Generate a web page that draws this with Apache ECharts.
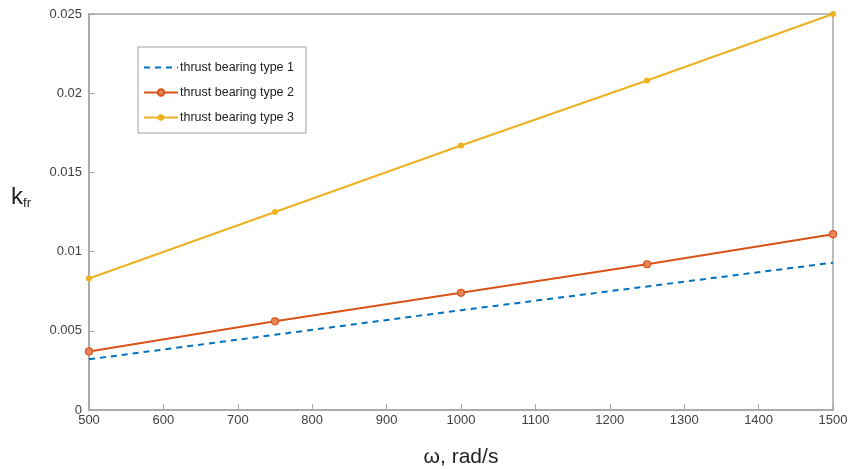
<!DOCTYPE html>
<html><head><meta charset="utf-8">
<script src="https://cdn.jsdelivr.net/npm/echarts@6/dist/echarts.min.js"></script>
<style>html,body{margin:0;padding:0;background:#fff}#c{width:850px;height:469px}</style>
</head><body><div id="c"></div>
<script>
const omega = [500, 750, 1000, 1250, 1500];
const type1 = [0.0032, 0.00475, 0.0063, 0.0078, 0.0093];
const type2 = [0.0037, 0.0056, 0.0074, 0.0092, 0.0111];
const type3 = [0.0083, 0.0125, 0.0167, 0.0208, 0.025];
const names = ['thrust bearing type 1', 'thrust bearing type 2', 'thrust bearing type 3'];
const yTicks = ['0', '0.005', '0.01', '0.015', '0.02', '0.025'];

const pairs = a => omega.map((x, i) => [x, a[i]]);
const chart = echarts.init(document.getElementById('c'));
const font = 'Liberation Sans, Arial, sans-serif';
chart.setOption({
  animation: false,
  grid: { left: 89, right: 17, top: 14, bottom: 59, outerBoundsMode: 'none', containLabel: false,
          show: true, borderColor: '#a6a6a6', borderWidth: 1.5 },
  legend: {
    left: 138, top: 47, orient: 'vertical', itemGap: 10, itemWidth: 34, itemHeight: 8,
    padding: [13, 12, 8, 5], borderColor: '#a0a0a0', borderWidth: 1, backgroundColor: '#fff',
    textStyle: { fontFamily: font, fontSize: 12.5, lineHeight: 15, color: '#222', padding: [0, 0, 0, -3] },
    data: [
      { name: names[0], itemStyle: { opacity: 0 } },
      { name: names[1] },
      { name: names[2] }
    ]
  },
  xAxis: {
    type: 'value', min: 500, max: 1500, interval: 100,
    name: 'ω, rad/s', nameLocation: 'middle', nameGap: 37,
    nameTextStyle: { fontFamily: font, fontSize: 21, color: '#222' },
    axisLine: { lineStyle: { color: '#a6a6a6', width: 1.5 } },
    axisTick: { inside: true, length: 6, lineStyle: { color: '#a6a6a6' } },
    axisLabel: { fontFamily: font, fontSize: 13, color: '#404040', margin: 4, formatter: v => String(v) },
    splitLine: { show: false }
  },
  yAxis: {
    type: 'value', min: 0, max: 0.025, interval: 0.005,
    name: '{k|k}{s|fr}', nameLocation: 'middle', nameGap: 58, nameRotate: 0,
    nameTextStyle: { padding: [0, 0, 30, 0], rich: { k: { fontFamily: font, fontSize: 24, color: '#222', verticalAlign: 'bottom' }, s: { fontFamily: font, fontSize: 13, color: '#222', verticalAlign: 'bottom', padding: [0, 0, -1, 0] } } },
    axisLine: { show: true, lineStyle: { color: '#a6a6a6', width: 1.5 } },
    axisTick: { show: true, inside: true, length: 6, lineStyle: { color: '#a6a6a6' } },
    axisLabel: { fontFamily: font, fontSize: 13, color: '#404040', margin: 7, formatter: (v, i) => yTicks[i] },
    splitLine: { show: false }
  },
  series: [
    { name: names[0], type: 'line', data: pairs(type1), showSymbol: false, symbol: 'none',
      lineStyle: { color: '#0072BD', width: 2, type: [6, 5] }, itemStyle: { color: '#0072BD' } },
    { name: names[1], type: 'line', data: pairs(type2), symbol: 'circle', symbolSize: 7,
      lineStyle: { color: '#D95319', width: 2 }, itemStyle: { color: '#E8855A', borderColor: '#D95319', borderWidth: 1.2 } },
    { name: names[2], type: 'line', data: pairs(type3), symbol: 'circle', symbolSize: 6,
      lineStyle: { color: '#EDB120', width: 2 }, itemStyle: { color: '#EDB120' } }
  ]
});
</script></body></html>
